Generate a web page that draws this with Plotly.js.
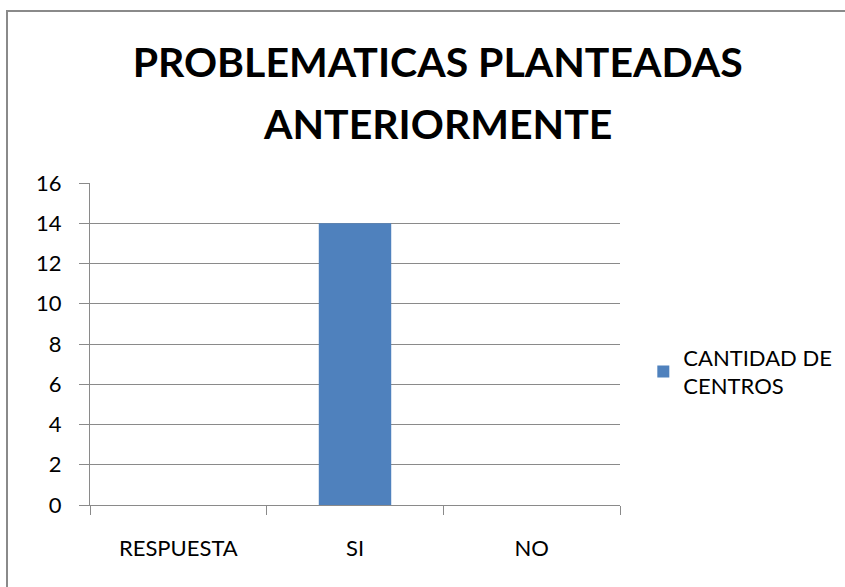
<!DOCTYPE html>
<html>
<head>
<meta charset="utf-8">
<script src="https://cdn.plot.ly/plotly-3.0.1.min.js"></script>
<style>
html,body{margin:0;padding:0;background:#fff;}
#wrap{position:relative;width:845px;height:587px;overflow:hidden;}
#chart{width:845px;height:587px;}
#frame{position:absolute;left:6px;top:10px;width:900px;height:700px;border:2px solid #8a8a8a;pointer-events:none;box-sizing:border-box;}
</style>
</head>
<body>
<div id="wrap">
<div id="chart"></div>
<div id="frame"></div>
</div>
<script>
const categories = ["RESPUESTA", "SI", "NO"];
const seriesName = "CANTIDAD DE<br>CENTROS";
const values = [null, 14, null];
const yTicks = [0, 2, 4, 6, 8, 10, 12, 14, 16];
const titleLine1 = "PROBLEMATICAS PLANTEADAS";
const titleLine2 = "ANTERIORMENTE";

const fontFam = "Lato";

const data = [{
  type: "bar",
  x: categories,
  y: values,
  name: seriesName,
  marker: {color: "#4F81BD"},
  showlegend: true
}];

const layout = {
  width: 845, height: 587,
  paper_bgcolor: "#fff", plot_bgcolor: "#fff",
  margin: {l: 90, r: 225, t: 183, b: 82, autoexpand: false},
  bargap: 0.59,
  title: {
    text: "<b>" + titleLine1 + "</b>",
    font: {family: fontFam, size: 41, color: "#000"},
    x: 0.518, xref: "container", xanchor: "center",
    y: 0.893, yref: "container", yanchor: "middle"
  },
  annotations: [{
    text: "<b>" + titleLine2 + "</b>",
    font: {family: fontFam, size: 41, color: "#000"},
    xref: "paper", yref: "paper",
    x: (437 - 90) / 530, y: (505 - 123) / 322,
    xanchor: "center", yanchor: "middle",
    showarrow: false
  }],
  xaxis: {
    type: "category",
    automargin: false,
    showgrid: false,
    showline: true, linecolor: "#8a8a8a", linewidth: 1,
    ticks: "outside", tickson: "boundaries", ticklen: 9, tickcolor: "#8a8a8a",
    tickfont: {family: fontFam, size: 22, color: "#000"},
    ticklabelstandoff: 24,
    fixedrange: true
  },
  yaxis: {
    range: [0, 16],
    automargin: false,
    tickvals: yTicks,
    ticktext: yTicks.map(String),
    showgrid: true, gridcolor: "#8a8a8a", gridwidth: 1,
    showline: true, linecolor: "#8a8a8a", linewidth: 1,
    ticks: "outside", ticklen: 10, tickcolor: "#8a8a8a",
    tickfont: {family: fontFam, size: 22, color: "#000"},
    ticklabelstandoff: 13,
    zeroline: false,
    fixedrange: true
  },
  legend: {
    x: 1.044, xanchor: "left", y: 0.413, yanchor: "middle",
    font: {family: fontFam, size: 22, color: "#000"},
    bgcolor: "rgba(0,0,0,0)", itemwidth: 30
  }
};

Plotly.newPlot("chart", data, layout, {staticPlot: true, displayModeBar: false});
</script>
</body>
</html>
